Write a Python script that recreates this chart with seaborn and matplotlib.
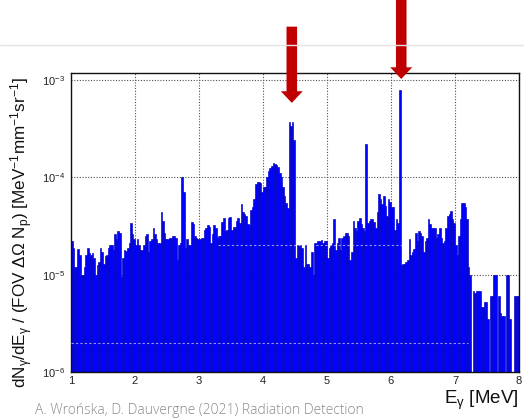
import numpy as np
import pandas as pd
import matplotlib
matplotlib.use("Agg")
import matplotlib.pyplot as plt
import seaborn as sns
from matplotlib.ticker import LogLocator, MultipleLocator, NullFormatter, LogFormatterSciNotation
from matplotlib.lines import Line2D

# ---- data: differential gamma yield per 0.025 MeV bin ----
bin_width = 0.025
energy_start = 1.0
energy_end = 8.0

seg_1_2 = [2.2e-5, 1.9e-5, 1.2e-5, 1.2e-5, 1.85e-5, 1.6e-5, 1.0e-5, 1.0e-5, 1.2e-5, 1.6e-5,
           1.9e-5, 1.65e-5, 1.6e-5, 1.65e-5, 1.5e-5, 1.0e-5, 1.25e-5, 1.35e-5, 1.9e-5, 1.7e-5,
           1.3e-5, 1.55e-5, 1.6e-5, 1.9e-5, 2.0e-5, 2.0e-5, 1.8e-5, 2.6e-5, 2.3e-5, 2.8e-5,
           2.7e-5, 9.5e-6, 1.5e-5, 1.8e-5, 1.75e-5, 1.9e-5, 2.1e-5, 3.4e-5, 2.6e-5, 2.3e-5]
seg_2_3 = [2.0e-5, 2.3e-5, 2.0e-5, 1.8e-5, 1.8e-5, 2.0e-5, 2.5e-5, 2.6e-5, 1.7e-5, 2.2e-5,
           2.3e-5, 3.0e-5, 2.6e-5, 2.3e-5, 2.1e-5, 2.1e-5, 4.4e-5, 3.6e-5, 2.7e-5, 2.3e-5,
           2.3e-5, 2.4e-5, 2.4e-5, 2.5e-5, 2.5e-5, 2.4e-5, 1.4e-5, 2.0e-5, 2.1e-5, 1.0e-4,
           7.0e-5, 1.9e-5, 2.3e-5, 2.0e-5, 2.0e-5, 3.5e-5, 3.3e-5, 2.5e-5, 2.4e-5, 2.3e-5]
seg_3_4 = [2.3e-5, 2.4e-5, 2.4e-5, 2.9e-5, 3.0e-5, 3.2e-5, 3.1e-5, 2.1e-5, 2.6e-5, 3.2e-5,
           3.0e-5, 2.4e-5, 2.5e-5, 2.5e-5, 3.5e-5, 3.8e-5, 2.8e-5, 2.9e-5, 3.8e-5, 3.9e-5,
           2.9e-5, 3.1e-5, 3.1e-5, 3.6e-5, 3.8e-5, 3.4e-5, 5.3e-5, 4.4e-5, 4.2e-5, 4.0e-5,
           3.3e-5, 3.2e-5, 4.6e-5, 5.0e-5, 6.0e-5, 8.5e-5, 9.0e-5, 9.0e-5, 8.7e-5, 7.0e-5]
seg_4_5 = [7.9e-5, 8.0e-5, 1.0e-4, 1.15e-4, 1.25e-4, 1.3e-4, 1.4e-4, 1.38e-4, 1.35e-4, 1.27e-4,
           1.12e-4, 1.0e-4, 8.0e-5, 6.5e-5, 5.5e-5, 4.8e-5, 3.7e-4, 3.4e-4, 3.7e-4, 2.4e-4,
           1.5e-5, 2.0e-5, 2.0e-5, 2.0e-5, 1.9e-5, 1.2e-5, 2.0e-5, 1.3e-5, 1.3e-5, 1.2e-5,
           1.7e-5, 1.0e-5, 2.1e-5, 2.1e-5, 2.2e-5, 2.2e-5, 2.25e-5, 2.1e-5, 2.2e-5, 2.2e-5]
seg_5_6 = [1.5e-5, 1.9e-5, 2.0e-5, 2.1e-5, 3.7e-5, 1.8e-5, 2.1e-5, 2.4e-5, 1.8e-5, 2.4e-5,
           2.5e-5, 2.7e-5, 2.7e-5, 2.5e-5, 1.4e-5, 1.7e-5, 3.6e-5, 3.0e-5, 2.8e-5, 3.6e-5,
           3.8e-5, 3.3e-5, 3.0e-5, 2.8e-5, 2.2e-4, 3.4e-5, 3.6e-5, 3.7e-5, 3.7e-5, 3.5e-5,
           3.0e-5, 4.4e-5, 6.7e-5, 6.0e-5, 5.3e-5, 6.5e-5, 5.1e-5, 4.0e-5, 6.0e-5, 5.6e-5]
seg_6_7 = [5.0e-5, 4.9e-5, 2.9e-5, 3.7e-5, 3.4e-5, 7.8e-4, 1.25e-5, 1.3e-5, 1.3e-5, 1.35e-5,
           1.4e-5, 2.3e-5, 1.6e-5, 1.7e-5, 1.85e-5, 2.7e-5, 2.2e-5, 2.8e-5, 2.7e-5, 2.5e-5,
           1.7e-5, 2.2e-5, 2.4e-5, 3.7e-5, 3.3e-5, 3.0e-5, 3.0e-5, 3.0e-5, 2.4e-5, 2.6e-5,
           3.0e-5, 2.4e-5, 2.1e-5, 2.2e-5, 3.0e-5, 4.0e-5, 4.2e-5, 4.5e-5, 3.7e-5, 3.4e-5]
seg_7_8 = [2.0e-5, 1.6e-5, 2.5e-5, 3.7e-5, 5.5e-5, 5.5e-5, 5.0e-5, 3.7e-5, 1.2e-5, 1.0e-5,
           0.0, 6.8e-6, 6.5e-6, 6.8e-6, 6.8e-6, 6.8e-6, 4.6e-6, 4.6e-6, 5.2e-6, 5.2e-6,
           3.5e-6, 0.0, 6.0e-6, 6.0e-6, 1.0e-5, 1.0e-5, 0.0, 6.0e-6, 4.0e-6, 3.8e-6,
           3.8e-6, 0.0, 1.0e-5, 1.0e-5, 3.5e-6, 0.0, 0.0, 6.0e-6, 6.0e-6, 6.0e-6]

x_ticks = [1, 2, 3, 4, 5, 6, 7, 8]
peak_energies = [4.45, 6.16]          # arrows mark the 4.44 and 6.13 MeV lines
caption = "A. Wrońska, D. Dauvergne (2021) Radiation Detection"
y_label = (r"dN$_{\mathrm{\gamma}}$/dE$_{\mathrm{\gamma}}$ / (FOV $\mathrm{\Delta\Omega}$ N$_{\mathrm{p}}$) "
           r"[MeV$^{\mathrm{-1}}$mm$^{\mathrm{-1}}$sr$^{\mathrm{-1}}$]")
x_label = r"E$_{\mathrm{\gamma}}$ [MeV]"

values = seg_1_2 + seg_2_3 + seg_3_4 + seg_4_5 + seg_5_6 + seg_6_7 + seg_7_8
n_bins = len(values)
centers = energy_start + bin_width * (np.arange(n_bins) + 0.5)
df = pd.DataFrame({"E": centers, "yield": values})

# ---- style ----
sns.set_theme(style="white")
plt.rcParams["font.family"] = ["Liberation Sans", "DejaVu Sans"]
plt.rcParams["mathtext.fontset"] = "custom"
plt.rcParams["mathtext.rm"] = "Liberation Sans"
plt.rcParams["mathtext.it"] = "Liberation Sans:italic"
plt.rcParams["mathtext.bf"] = "Liberation Sans:bold"

W, H = 524, 418
fig = plt.figure(figsize=(W / 100, H / 100), dpi=100)
fig.patch.set_facecolor("white")
ax = fig.add_axes([71 / W, 1 - 372 / H, (519 - 71) / W, (372 - 73) / H])

sns.histplot(data=df, x="E", weights="yield", binwidth=bin_width,
             binrange=(energy_start, energy_end), element="bars",
             fill=True, color="#0000ff", edgecolor="#0000c0", linewidth=0.45,
             alpha=1.0, ax=ax)

ax.set_yscale("log")
ax.set_xlim(1, 8)
ax.set_ylim(1e-6, 1.18e-3)
ax.set_xlabel("")
ax.set_ylabel("")

# white dashed artefact lines visible inside the filled area
ax.hlines(2e-5, 3.3, 6.2, colors="white", linestyles=(0, (2, 2)), linewidth=0.8, alpha=0.6, zorder=3)
ax.hlines(2e-6, 1.0, 7.2, colors="white", linestyles=(0, (2, 2)), linewidth=0.8, alpha=0.6, zorder=3)

# grid (ROOT-like dotted)
ax.set_axisbelow(True)
ax.grid(True, which="major", color="#505050", linestyle=(0, (1, 1.5)), linewidth=0.8)

# ticks
ax.set_xticks(x_ticks)
ax.xaxis.set_minor_locator(MultipleLocator(0.2))
ax.yaxis.set_major_locator(LogLocator(base=10, numticks=10))
ax.yaxis.set_major_formatter(LogFormatterSciNotation())
ax.yaxis.set_minor_locator(LogLocator(base=10, subs=np.arange(2, 10), numticks=20))
ax.yaxis.set_minor_formatter(NullFormatter())
ax.tick_params(which="both", direction="in", top=False, right=False,
               colors="#222222", labelsize=8)
ax.tick_params(axis="y", which="major", length=8, width=0.9, pad=4)
ax.tick_params(axis="y", which="minor", length=4.5, width=0.8)
ax.tick_params(axis="x", which="major", length=6, width=0.9, pad=3)
ax.tick_params(axis="x", which="minor", length=3, width=0.7)
for s in ax.spines.values():
    s.set_color("#111111")
    s.set_linewidth(1.0)
    s.set_visible(True)

# labels
fig.text(22 / W, 1 - 232 / H, y_label, rotation=90, ha="center", va="center",
         fontsize=12.3, color="#111111")
fig.text(519 / W, 1 - 400 / H, x_label, ha="right", va="center",
         fontsize=13.5, color="#111111")

# caption and slide separator
fig.text(35 / W, 1 - 414 / H, caption, ha="left", va="baseline",
         fontsize=10, color="#8a8a8a", family=["Open Sans", "DejaVu Sans"], fontweight="light")
fig.add_artist(Line2D([0, 1], [1 - 44.5 / H] * 2, transform=fig.transFigure,
                      color="#e2e2e2", linewidth=1.0))

# red arrows pointing to the 4.44 MeV and 6.13 MeV lines
arrow_tips = [0.900, 0.980]
arrow_tails = [1.155, 1.245]
for e, tip, tail in zip(peak_energies, arrow_tips, arrow_tails):
    ax.annotate("", xy=(e, tip), xycoords=("data", "axes fraction"),
                xytext=(e, tail), textcoords=("data", "axes fraction"),
                arrowprops=dict(arrowstyle="simple,head_length=8.4,head_width=15.8,tail_width=7.6",
                                mutation_scale=1, color="#c00000", shrinkA=0, shrinkB=0,
                                linewidth=0),
                annotation_clip=False)

fig.savefig("out.png", dpi=100)
